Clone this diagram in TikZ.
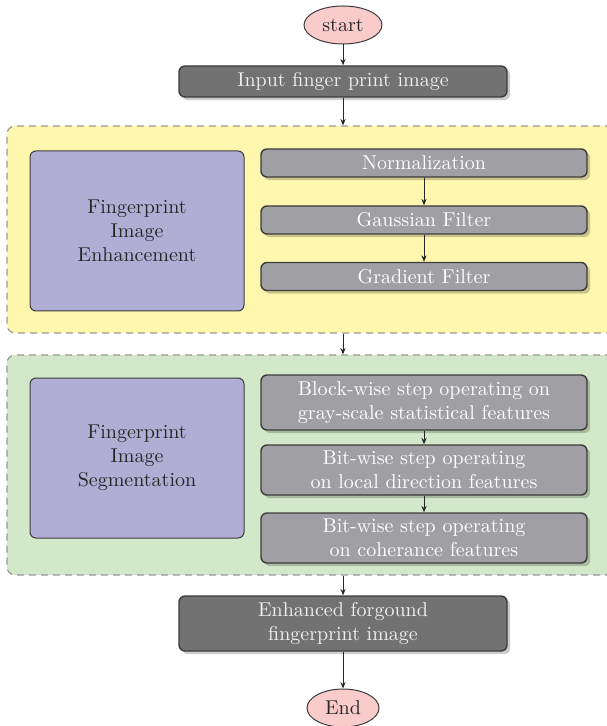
\documentclass[tikz,border=0pt]{standalone}
\usetikzlibrary{shapes.geometric,shadows,arrows.meta}
\definecolor{pinkfill}{HTML}{F9CBCB}
\definecolor{darkbox}{HTML}{727272}
\definecolor{midbox}{HTML}{A0A0A4}
\definecolor{yellowbg}{HTML}{FFF7AE}
\definecolor{greenbg}{HTML}{D2E8C8}
\definecolor{bluebox}{HTML}{B1AED6}
\definecolor{edgegray}{HTML}{3C3C3C}
\tikzset{
  terminal/.style={ellipse, draw=edgegray, line width=0.5pt, fill=pinkfill, inner sep=0pt, text=black!85},
  outerbox/.style={rectangle, rounded corners=3pt, draw=edgegray, line width=0.7pt, fill=darkbox, inner sep=0pt, text=white!94!black, align=center,
    drop shadow={shadow xshift=1.6pt, shadow yshift=-1.6pt, opacity=0.2, fill=black}},
  innerbox/.style={rectangle, rounded corners=3pt, draw=edgegray, line width=0.7pt, fill=midbox, inner sep=0pt, text=white, align=center, minimum width=163pt,
    drop shadow={shadow xshift=1.6pt, shadow yshift=-1.6pt, opacity=0.2, fill=black}},
  groupbox/.style={rectangle, rounded corners=4pt, draw=black!40, dash pattern=on 3.5pt off 2.5pt, line width=0.6pt, inner sep=0pt, minimum width=306.5pt},
  labelbox/.style={rectangle, rounded corners=3pt, draw=edgegray, line width=0.5pt, fill=bluebox, inner sep=0pt, minimum width=107pt, minimum height=80pt, align=center, text=black!85},
  flow/.style={draw=black!85, line width=0.5pt, -{Stealth[length=3.2pt,width=2.6pt]}}
}
\begin{document}
\begin{tikzpicture}[x=0.5pt,y=-0.5pt]
\useasboundingbox (0,0) rectangle (606,726);
% group containers
\node[groupbox, fill=yellowbg, minimum height=103.5pt] (enh) at (313.5,229.5) {};
\node[groupbox, fill=greenbg, minimum height=110pt] (seg) at (313.5,465) {};
% terminals and main steps
\node[terminal, minimum width=39pt, minimum height=19pt] (start) at (343,25) {start};
\node[outerbox, minimum width=164pt, minimum height=15.5pt] (input) at (343,81.5) {Input finger print image};
% enhancement group
\node[labelbox] (lab1) at (137,231) {Fingerprint\\Image\\Enhancement};
\node[innerbox, minimum height=14pt] (norm) at (424,163) {Normalization};
\node[innerbox, minimum height=14pt] (gauss) at (424,220) {Gaussian Filter};
\node[innerbox, minimum height=14pt] (grad) at (424,276.5) {Gradient Filter};
% segmentation group
\node[labelbox] (lab2) at (137,458) {Fingerprint\\Image\\Segmentation};
\node[innerbox, minimum height=27.5pt] (s1) at (424,402.5) {Block-wise step operating on\\gray-scale statistical features};
\node[innerbox, minimum height=25pt] (s2) at (424,470) {Bit-wise step operating\\on local direction features};
\node[innerbox, minimum height=25pt] (s3) at (424,538) {Bit-wise step operating\\on coherance features};
% output
\node[outerbox, minimum width=164pt, minimum height=27.5pt] (out) at (343,623.5) {Enhanced forgound\\fingerprint image};
\node[terminal, minimum width=36pt, minimum height=19pt] (end) at (343,708) {End};
% connectors
\draw[flow] (start) -- (input);
\draw[flow] (input) -- (input |- enh.north);
\draw[flow] (norm) -- (gauss);
\draw[flow] (gauss) -- (grad);
\draw[flow] (input |- enh.south) -- (input |- seg.north);
\draw[flow] (s1) -- (s2);
\draw[flow] (s2) -- (s3);
\draw[flow] (input |- seg.south) -- (out);
\draw[flow] (out) -- (end);
\end{tikzpicture}
\end{document}
